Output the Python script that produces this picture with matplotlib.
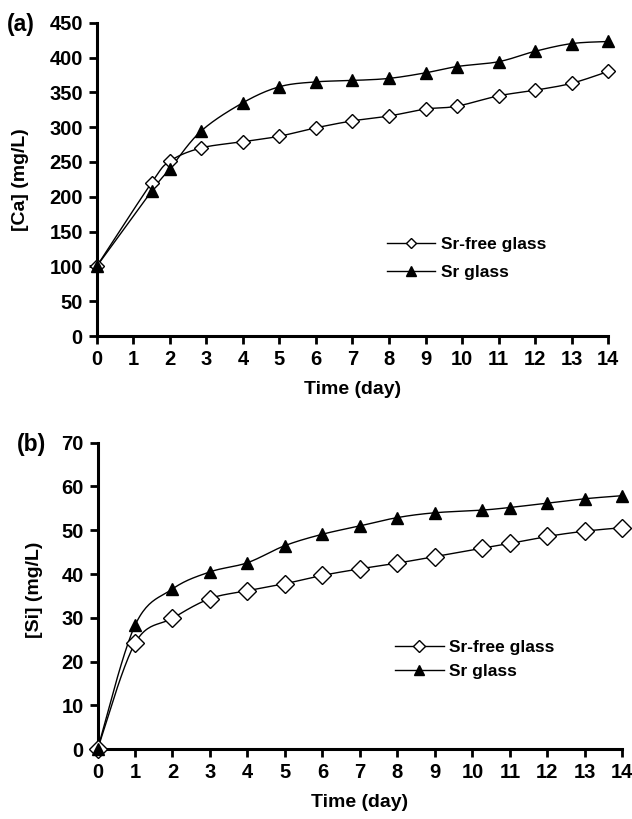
import numpy as np
import matplotlib
matplotlib.use('Agg')
import matplotlib.pyplot as plt
from matplotlib.lines import Line2D

plt.rcParams['font.family'] = ['Liberation Sans', 'DejaVu Sans']
plt.rcParams['font.weight'] = 'bold'

### Donnees : liberation du Ca
jours_ca = [0, 1.5, 2, 2.85, 4, 5, 6, 7, 8, 9, 9.85, 11, 12, 13, 14]
ca_sans_sr = [100, 220, 251, 270, 279, 287, 299, 309, 316, 326, 330, 345, 353, 363, 380]
ca_sr = [100, 208, 240, 294, 335, 358, 365, 367, 370, 378, 387, 394, 409, 420, 423]

### Donnees : liberation du Si
jours_si = [0, 1, 2, 3, 4, 5, 6, 7, 8, 9, 10.25, 11, 12, 13, 14]
si_sans_sr = [0, 24.2, 29.9, 34.4, 36.2, 37.8, 39.7, 41.2, 42.5, 44.0, 45.9, 47.0, 48.6, 49.8, 50.6]
si_sr = [0, 28.3, 36.6, 40.5, 42.6, 46.5, 49.1, 51.0, 52.9, 54.0, 54.6, 55.2, 56.2, 57.2, 57.9]

noms = ['Sr-free glass', 'Sr glass']
ticks_x = list(range(0, 15))


### Courbe lissee (Catmull-Rom, comme les courbes lissees d'Excel)
def lisse(x, y, n=25):
    x = np.asarray(x, float)
    y = np.asarray(y, float)
    px = np.concatenate([[x[0]], x, [x[-1]]])
    py = np.concatenate([[y[0]], y, [y[-1]]])
    t = np.linspace(0, 1, n)[:, None]
    xs, ys = [], []
    for i in range(1, len(x)):
        p0 = np.array([px[i - 1], py[i - 1]])
        p1 = np.array([px[i], py[i]])
        p2 = np.array([px[i + 1], py[i + 1]])
        p3 = np.array([px[i + 2], py[i + 2]])
        c1 = p1 + (p2 - p0) / 6
        c2 = p2 - (p3 - p1) / 6
        b = ((1 - t) ** 3) * p1 + 3 * ((1 - t) ** 2) * t * c1 + 3 * (1 - t) * t ** 2 * c2 + t ** 3 * p2
        xs.append(b[:, 0])
        ys.append(b[:, 1])
    return np.concatenate(xs), np.concatenate(ys)


def trace_panneau(ax, jours, y_libre, y_sr, ms_d, ms_t):
    xs, ys = lisse(jours, y_libre)
    ax.plot(xs, ys, color='k', lw=1, clip_on=False)
    xs, ys = lisse(jours, y_sr)
    ax.plot(xs, ys, color='k', lw=1, clip_on=False)
    ax.plot(jours, y_libre, ls='none', marker='D', mfc='white', mec='k',
            ms=ms_d, mew=1, clip_on=False, zorder=3)
    ax.plot(jours, y_sr, ls='none', marker='^', mfc='k', mec='k',
            ms=ms_t, clip_on=False, zorder=3)
    for s in ['top', 'right']:
        ax.spines[s].set_visible(False)
    for s in ['left', 'bottom']:
        ax.spines[s].set_linewidth(2.2)
    ax.tick_params(direction='out', length=6, width=2, labelsize=14.5, pad=4)
    ax.set_xlim(0, 14)
    ax.set_xticks(ticks_x)
    ax.set_xlabel('Time (day)', fontsize=14, fontweight='bold')


fig = plt.figure(figsize=(6.32, 8.19), dpi=100)

### (a) Ca
ax1 = fig.add_axes([0.153, 0.5897, 0.8095, 0.3826])
trace_panneau(ax1, jours_ca, ca_sans_sr, ca_sr, 7, 8.5)
ax1.set_ylim(0, 450)
ax1.set_yticks(range(0, 451, 50))
ax1.set_ylabel('[Ca] (mg/L)', fontsize=14, fontweight='bold')
ax1.yaxis.set_label_coords(-0.132, 0.5)
ax1.xaxis.set_label_coords(0.5, -0.144)
poignees = [Line2D([], [], color='k', lw=1, marker='D', mfc='white', mec='k', ms=5.5),
            Line2D([], [], color='k', lw=1, marker='^', mfc='k', mec='k', ms=7.5)]
ax1.legend(poignees, noms, loc='upper left', bbox_to_anchor=(0.567, 0.316),
           frameon=False, fontsize=12.5, handlelength=2.8, handletextpad=0.3,
           labelspacing=0.75, borderpad=0, borderaxespad=0)
fig.text(7 / 632, 1 - 25 / 819, '(a)', fontsize=16.5, fontweight='bold', va='center')

### (b) Si
ax2 = fig.add_axes([0.1543, 0.0851, 0.8304, 0.3744])
trace_panneau(ax2, jours_si, si_sans_sr, si_sr, 9, 8.5)
ax2.set_ylim(0, 70)
ax2.set_yticks(range(0, 71, 10))
ax2.set_ylabel('[Si] (mg/L)', fontsize=14, fontweight='bold')
ax2.yaxis.set_label_coords(-0.104, 0.52)
ax2.xaxis.set_label_coords(0.5, -0.146)
poignees = [Line2D([], [], color='k', lw=1, marker='D', mfc='white', mec='k', ms=6.5),
            Line2D([], [], color='k', lw=1, marker='^', mfc='k', mec='k', ms=7.5)]
ax2.legend(poignees, noms, loc='upper left', bbox_to_anchor=(0.567, 0.356),
           frameon=False, fontsize=12.5, handlelength=2.8, handletextpad=0.3,
           labelspacing=0.52, borderpad=0, borderaxespad=0)
fig.text(17 / 632, 1 - 445 / 819, '(b)', fontsize=16.5, fontweight='bold', va='center')

plt.savefig('out.png', dpi=100)
plt.close()
